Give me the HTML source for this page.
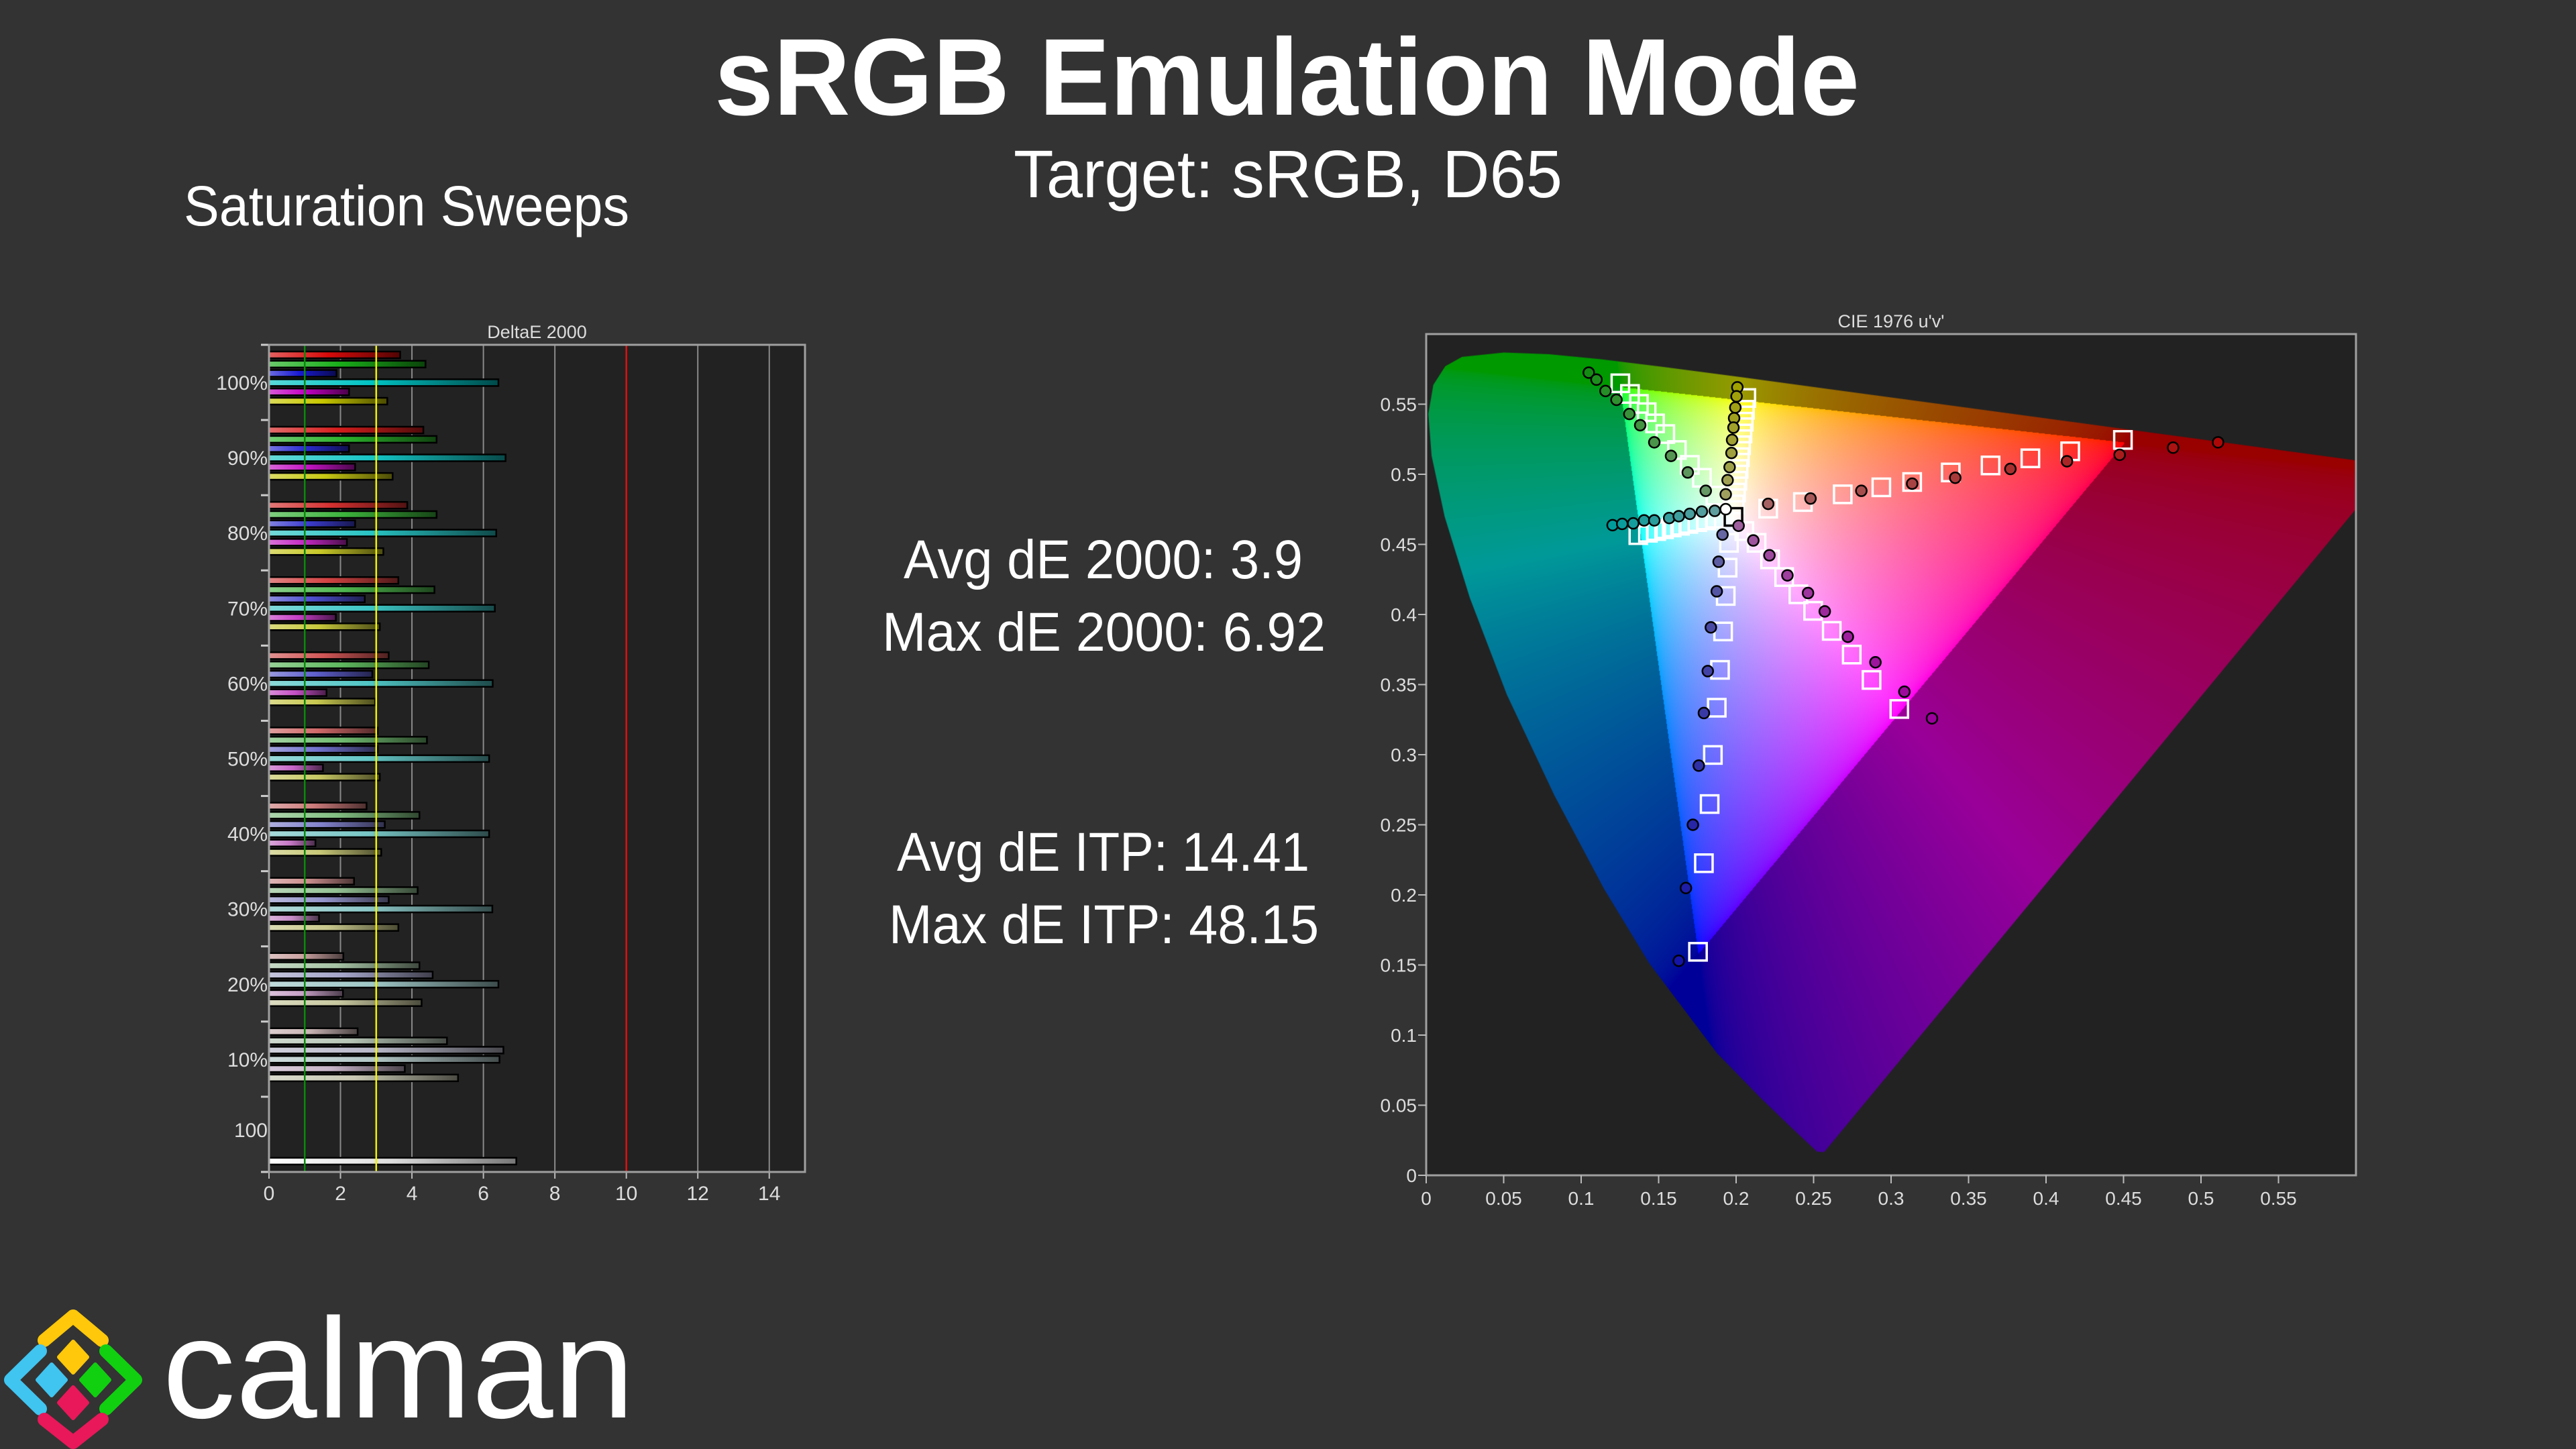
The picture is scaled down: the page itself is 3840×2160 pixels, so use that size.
<!DOCTYPE html>
<html><head><meta charset="utf-8">
<style>
html,body{margin:0;padding:0;background:#333333;}
body{width:3840px;height:2160px;position:relative;overflow:hidden;font-family:"Liberation Sans",sans-serif;}
#cie{position:absolute;left:2126px;top:498px;}
#ov{position:absolute;left:0;top:0;}
</style></head>
<body>
<canvas id="cie" width="1386" height="1254"></canvas>
<svg id="ov" width="3840" height="2160" xmlns="http://www.w3.org/2000/svg">
  <text x="1065" y="171" font-size="163" font-weight="bold" fill="#ffffff" textLength="1707" lengthAdjust="spacingAndGlyphs">sRGB Emulation Mode</text>
  <text x="1511" y="294" font-size="100" fill="#ffffff" textLength="818" lengthAdjust="spacingAndGlyphs">Target: sRGB, D65</text>
  <text x="274" y="336" font-size="84" fill="#ffffff" textLength="664" lengthAdjust="spacingAndGlyphs">Saturation Sweeps</text>
  <g fill="#ffffff" font-size="82">
    <text x="1347" y="862" textLength="595" lengthAdjust="spacingAndGlyphs">Avg dE 2000: 3.9</text>
    <text x="1315" y="970" textLength="661" lengthAdjust="spacingAndGlyphs">Max dE 2000: 6.92</text>
    <text x="1337" y="1298" textLength="615" lengthAdjust="spacingAndGlyphs">Avg dE ITP: 14.41</text>
    <text x="1325" y="1406" textLength="641" lengthAdjust="spacingAndGlyphs">Max dE ITP: 48.15</text>
  </g>
  <g id="bars"></g>
  <g id="ciesvg"></g>
  <g stroke-linecap="round" stroke-linejoin="round">
    <polyline points="66,1998 109,1962 152,1998" fill="none" stroke="#ffc80a" stroke-width="20"/>
    <polyline points="60,2014 16,2057 60,2100" fill="none" stroke="#40c4f0" stroke-width="20"/>
    <polyline points="158,2014 202,2057 158,2100" fill="none" stroke="#10d010" stroke-width="20"/>
    <polyline points="66,2116 109,2150 152,2116" fill="none" stroke="#e8185a" stroke-width="20"/>
    <polygon points="109,2000 130,2023 109,2046 88,2023" fill="#ffc80a" stroke="#ffc80a" stroke-width="6"/>
    <polygon points="77,2034 98,2057 77,2080 56,2057" fill="#40c4f0" stroke="#40c4f0" stroke-width="6"/>
    <polygon points="142,2034 163,2057 142,2080 121,2057" fill="#10d010" stroke="#10d010" stroke-width="6"/>
    <polygon points="109,2068 130,2091 109,2114 88,2091" fill="#e8185a" stroke="#e8185a" stroke-width="6"/>
    <text x="242" y="2113" font-size="212" fill="#ffffff" stroke="none" textLength="704" lengthAdjust="spacingAndGlyphs">calman</text>
  </g>
</svg>
<script>
// ---------- DeltaE 2000 bar chart data ----------
const groupLabels = ["100%","90%","80%","70%","60%","50%","40%","30%","20%","10%"];
const groupSat = [1.0,0.9,0.8,0.7,0.6,0.5,0.4,0.3,0.2,0.1];
const redDE     = [3.67,4.32,3.87,3.62,3.35,3.04,2.73,2.38,2.08,2.48];
const greenDE   = [4.38,4.69,4.69,4.63,4.47,4.42,4.21,4.16,4.21,4.98];
const blueDE    = [1.89,2.24,2.41,2.68,2.89,3.04,3.24,3.35,4.58,6.56];
const cyanDE    = [6.42,6.62,6.36,6.32,6.26,6.16,6.16,6.25,6.42,6.45];
const magentaDE = [2.24,2.41,2.18,1.87,1.61,1.51,1.30,1.40,2.07,3.80];
const yellowDE  = [3.31,3.46,3.20,3.10,2.97,3.10,3.14,3.62,4.27,5.29];
const whiteLabel = "100";
const whiteDE = 6.92;
const xTicks = [0,2,4,6,8,10,12,14];
const refLines = [1,3,10];

// ---------- CIE data (u', v'), 100% -> 10% ----------
const redTargetU = [0.4496,0.4156,0.3899,0.3642,0.3385,0.3136,0.2937,0.2688,0.2431,0.2207];
const redTargetV = [0.5245,0.5164,0.5114,0.5063,0.5013,0.4945,0.4907,0.4857,0.4802,0.4755];
const redMeasU = [0.5110,0.4820,0.4475,0.4135,0.3770,0.3414,0.3136,0.2808,0.2480,0.2207];
const redMeasV = [0.5228,0.5190,0.5139,0.5093,0.5038,0.4975,0.4933,0.4882,0.4827,0.4789];
const greenTargetU = [0.1253,0.1315,0.1373,0.1423,0.1477,0.1543,0.1618,0.1701,0.1779,0.1866];
const greenTargetV = [0.5649,0.5573,0.5502,0.5443,0.5363,0.5287,0.5173,0.5067,0.4975,0.4848];
const greenMeasU = [0.1049,0.1099,0.1157,0.1228,0.1311,0.1381,0.1472,0.1580,0.1688,0.1804];
const greenMeasV = [0.5725,0.5675,0.5594,0.5531,0.5430,0.5350,0.5228,0.5131,0.5013,0.4882];
const blueTargetU = [0.1754,0.1792,0.1829,0.1850,0.1875,0.1896,0.1916,0.1933,0.1945,0.1954];
const blueTargetV = [0.1594,0.2226,0.2648,0.2998,0.3335,0.3605,0.3879,0.4132,0.4334,0.4511];
const blueMeasU = [0.1630,0.1676,0.1721,0.1759,0.1792,0.1817,0.1837,0.1875,0.1887,0.1912];
const blueMeasV = [0.1530,0.2049,0.2500,0.2922,0.3297,0.3596,0.3908,0.4165,0.4376,0.4570];
const magentaTargetU = [0.3053,0.2874,0.2746,0.2617,0.2497,0.2402,0.2310,0.2219,0.2132,0.2053];
const magentaTargetV = [0.3326,0.3533,0.3714,0.3883,0.4026,0.4144,0.4267,0.4393,0.4511,0.4595];
const magentaMeasU = [0.3264,0.3086,0.2899,0.2721,0.2572,0.2464,0.2331,0.2215,0.2111,0.2016];
const magentaMeasV = [0.3259,0.3449,0.3659,0.3841,0.4022,0.4153,0.4279,0.4422,0.4528,0.4633];
const cyanTargetU = [0.1369,0.1431,0.1485,0.1535,0.1584,0.1638,0.1692,0.1750,0.1808,0.1866];
const cyanTargetV = [0.4566,0.4583,0.4595,0.4608,0.4621,0.4633,0.4646,0.4659,0.4671,0.4684];
const cyanMeasU = [0.1203,0.1265,0.1336,0.1406,0.1472,0.1568,0.1630,0.1701,0.1779,0.1862];
const cyanMeasV = [0.4637,0.4646,0.4650,0.4671,0.4671,0.4688,0.4701,0.4718,0.4734,0.4739];
const yellowTargetU = [0.2066,0.2057,0.2049,0.2041,0.2032,0.2024,0.2016,0.2008,0.1999,0.1991];
const yellowTargetV = [0.5544,0.5460,0.5375,0.5291,0.5207,0.5122,0.5038,0.4954,0.4869,0.4785];
const yellowMeasU = [0.2008,0.2003,0.1995,0.1987,0.1983,0.1974,0.1970,0.1958,0.1945,0.1933];
const yellowMeasV = [0.5620,0.5556,0.5476,0.5400,0.5333,0.5245,0.5152,0.5051,0.4958,0.4857];
const whiteTarget = [0.1983,0.4696];
const whiteMeas = [0.1933,0.4751];
const cieTicks = [0,0.05,0.1,0.15,0.2,0.25,0.3,0.35,0.4,0.45,0.5,0.55];
const cieTickLabels = ["0","0.05","0.1","0.15","0.2","0.25","0.3","0.35","0.4","0.45","0.5","0.55"];
// spectral locus (u', v')
const locusU = [0.2568,0.2522,0.2347,0.2161,0.1877,0.1441,0.1147,0.0828,0.0521,0.0282,0.0119,0.0035,0.0014,0.0046,0.0123,0.0231,0.0501,0.0792,0.1127,0.1531,0.2026,0.2623,0.3315,0.4035,0.5203,0.5830,0.6234];
const locusV = [0.0165,0.0169,0.0350,0.0549,0.0871,0.1510,0.2044,0.2708,0.3427,0.4117,0.4698,0.5131,0.5431,0.5638,0.5770,0.5837,0.5868,0.5856,0.5821,0.5766,0.5694,0.5604,0.5501,0.5393,0.5219,0.5125,0.5065];

const NS = "http://www.w3.org/2000/svg";
function mk(parent, tag, attrs){ const e=document.createElementNS(NS,tag); for(const k in attrs) e.setAttribute(k,attrs[k]); parent.appendChild(e); return e; }

// ---------- bar chart ----------
const B = {l:401,r:1200,t:514,b:1747,max:15};
const bx = v => B.l + v/B.max*(B.r-B.l);
const gH = (B.b-B.t)/11;
const gy = i => B.t + i*gH;
const bars = document.getElementById('bars');
const defs = mk(document.getElementById('ov'),'defs',{});
const hueBase = [[215,10,10],[25,175,25],[25,25,210],[0,195,195],[195,0,195],[200,200,0]];
const hueNames = ["red","green","blue","cyan","magenta","yellow"];
const series = [redDE,greenDE,blueDE,cyanDE,magentaDE,yellowDE];
function tint(h,s){ const g=[200,200,200]; return hueBase[h].map((c,k)=>Math.round(g[k]+(c-g[k])*s)); }
function rgb(a,f){ f=f||1; return 'rgb('+a.map(c=>Math.max(0,Math.min(255,Math.round(c*f)))).join(',')+')'; }
function lighten(a,t){ return a.map(c=>c+(255-c)*t); }

const plotBg = mk(bars,'rect',{x:B.l,y:B.t,width:B.r-B.l,height:B.b-B.t,fill:'#222222'});


const bt = mk(bars,'text',{x:(B.l+B.r)/2,y:504,'font-size':27,fill:'#dddddd','text-anchor':'middle'});
bt.textContent='DeltaE 2000';


xTicks.forEach(t=>{
  if(t>0 && refLines.indexOf(t)<0){
    const gl = mk(bars,'line',{x1:bx(t),x2:bx(t),y1:B.t,y2:B.b,stroke:'#8a8a8a','stroke-width':2});
    
    
  }
  const tk = mk(bars,'line',{x1:bx(t),x2:bx(t),y1:B.b,y2:B.b+10,stroke:'#bbbbbb','stroke-width':2});
  
  
  const tl = mk(bars,'text',{x:bx(t),y:B.b+42,'font-size':30,fill:'#dddddd','text-anchor':'middle'});
  tl.textContent=String(t);
  
  
});
for(let i=0;i<=11;i++){
  const tk = mk(bars,'line',{x1:B.l-12,x2:B.l,y1:gy(i),y2:gy(i),stroke:'#cccccc','stroke-width':3});
  
  
}
groupLabels.forEach((lab,i)=>{
  const tl = mk(bars,'text',{x:B.l-2,y:gy(i)+gH/2+11,'font-size':30,fill:'#dddddd','text-anchor':'end'});
  tl.textContent=lab;
  
  
  series.forEach((arr,h)=>{
    const c = tint(h,groupSat[i]);
    const gid='g'+i+'_'+h;
    const lg = mk(defs,'linearGradient',{id:gid,x1:0,x2:1,y1:0,y2:0});
    mk(lg,'stop',{offset:0,'stop-color':rgb(lighten(c,0.35))});
    mk(lg,'stop',{offset:0.45,'stop-color':rgb(c)});
    mk(lg,'stop',{offset:1,'stop-color':rgb(c,0.38)});
    const cy = gy(i)+15+h*13.8;
    const r = mk(bars,'rect',{x:B.l,y:cy-5,width:bx(arr[i])-B.l,height:10,fill:'url(#'+gid+')',stroke:'#000','stroke-width':2.5});
    
    
  });
});
{
  const tl = mk(bars,'text',{x:B.l-2,y:gy(10)+gH/2+4,'font-size':30,fill:'#dddddd','text-anchor':'end'});
  tl.textContent=whiteLabel;
  
  
  const lg = mk(defs,'linearGradient',{id:'gw',x1:0,x2:1,y1:0,y2:0});
  mk(lg,'stop',{offset:0,'stop-color':'#ffffff'});
  mk(lg,'stop',{offset:0.5,'stop-color':'#dddddd'});
  mk(lg,'stop',{offset:1,'stop-color':'#777777'});
  const r = mk(bars,'rect',{x:B.l,y:gy(10)+91,width:bx(whiteDE)-B.l,height:10,fill:'url(#gw)',stroke:'#000','stroke-width':2.5});
  
  
}
const refColors=['#0a8a0a','#f0f000','#e01010'];
refLines.forEach((v,k)=>{
  const l = mk(bars,'line',{x1:bx(v),x2:bx(v),y1:B.t,y2:B.b,stroke:refColors[k],'stroke-width':2.5});
  
  
});
const bb = mk(bars,'rect',{x:B.l,y:B.t,width:B.r-B.l,height:B.b-B.t,fill:'none',stroke:'#a0a0a0','stroke-width':3});



// ---------- CIE chart ----------
const C = {l:2126,r:3512,t:498,b:1752,max:0.6};
const cx = u => C.l + u/C.max*(C.r-C.l);
const cy = v => C.b - v/C.max*(C.b-C.t);
(function drawGamut(){
  const cv=document.getElementById('cie'); const ctx=cv.getContext('2d');
  const W=cv.width,H=cv.height;
  ctx.fillStyle='#222222'; ctx.fillRect(0,0,W,H);
  const off=document.createElement('canvas'); off.width=W; off.height=H;
  const octx=off.getContext('2d'); const img=octx.createImageData(W,H); const d=img.data;
  const g=x=> x<=0.0031308?12.92*x:1.055*Math.pow(x,1/2.4)-0.055;
  for(let py=0;py<H;py++){
    const v=(H-py)/H*C.max;
    for(let px=0;px<W;px++){
      const u=px/W*C.max;
      const den=6*u-16*v+12; const x=9*u/den, y=4*v/den;
      let R=0,G=0,Bc=0;
      if(y>1e-4){
        const X=x/y, Y=1, Z=(1-x-y)/y;
        R=3.2406*X-1.5372*Y-0.4986*Z; G=-0.9689*X+1.8758*Y+0.0415*Z; Bc=0.0557*X-0.2040*Y+1.0570*Z;
      }
      const out=Math.min(R,G,Bc)<0;
      R=Math.max(R,0);G=Math.max(G,0);Bc=Math.max(Bc,0);
      const m=Math.max(R,G,Bc)||1; const f=out?0.6:1;
      const k=(py*W+px)*4;
      d[k]=255*g(R/m)*f; d[k+1]=255*g(G/m)*f; d[k+2]=255*g(Bc/m)*f; d[k+3]=255;
    }
  }
  octx.putImageData(img,0,0);
  ctx.save(); ctx.beginPath();
  locusU.forEach((u,i)=>{ const X=u/C.max*W, Y=H-locusV[i]/C.max*H; if(i) ctx.lineTo(X,Y); else ctx.moveTo(X,Y); });
  ctx.closePath(); ctx.clip(); ctx.drawImage(off,0,0); ctx.restore();
})();
const cs = document.getElementById('ciesvg');
const ct = mk(cs,'text',{x:(C.l+C.r)/2,y:488,'font-size':27,fill:'#dddddd','text-anchor':'middle'});
ct.textContent="CIE 1976 u'v'";


const cb = mk(cs,'rect',{x:C.l,y:C.t,width:C.r-C.l,height:C.b-C.t,fill:'none',stroke:'#a0a0a0','stroke-width':3});


cieTicks.forEach((t,i)=>{
  const a = mk(cs,'line',{x1:cx(t),x2:cx(t),y1:C.b,y2:C.b+12,stroke:'#bbbbbb','stroke-width':2});
  
  
  const al = mk(cs,'text',{x:cx(t),y:C.b+44,'font-size':28,fill:'#dddddd','text-anchor':'middle'});
  al.textContent=cieTickLabels[i];
  
  
  const b = mk(cs,'line',{x1:C.l-12,x2:C.l,y1:cy(t),y2:cy(t),stroke:'#bbbbbb','stroke-width':2});
  
  
  const bl = mk(cs,'text',{x:C.l-14,y:cy(t)+10,'font-size':28,fill:'#dddddd','text-anchor':'end'});
  bl.textContent=cieTickLabels[i];
  
  
});
const targets=[[redTargetU,redTargetV],[greenTargetU,greenTargetV],[blueTargetU,blueTargetV],[cyanTargetU,cyanTargetV],[magentaTargetU,magentaTargetV],[yellowTargetU,yellowTargetV]];
const meas=[[redMeasU,redMeasV],[greenMeasU,greenMeasV],[blueMeasU,blueMeasV],[cyanMeasU,cyanMeasV],[magentaMeasU,magentaMeasV],[yellowMeasU,yellowMeasV]];
const SQ=26;
targets.forEach((p,h)=>{
  p[0].forEach((u,i)=>{
    const s = mk(cs,'rect',{x:cx(u)-SQ/2,y:cy(p[1][i])-SQ/2,width:SQ,height:SQ,fill:'none',stroke:'#ffffff','stroke-width':3.5});
    
    
  });
});
{
  const s = mk(cs,'rect',{x:cx(whiteTarget[0])-SQ/2,y:cy(whiteTarget[1])-SQ/2,width:SQ,height:SQ,fill:'none',stroke:'#000000','stroke-width':3.5});
  
  
}
meas.forEach((p,h)=>{
  p[0].forEach((u,i)=>{
    const c = mk(cs,'circle',{cx:cx(u),cy:cy(p[1][i]),r:8,fill:rgb(tint(h,0.35+0.65*groupSat[i]),0.8),stroke:'#000','stroke-width':2.5});
    
    
  });
});
{
  const c = mk(cs,'circle',{cx:cx(whiteMeas[0]),cy:cy(whiteMeas[1]),r:8,fill:'#ffffff',stroke:'#000','stroke-width':2.5});
  
  
}
</script>
</body></html>
